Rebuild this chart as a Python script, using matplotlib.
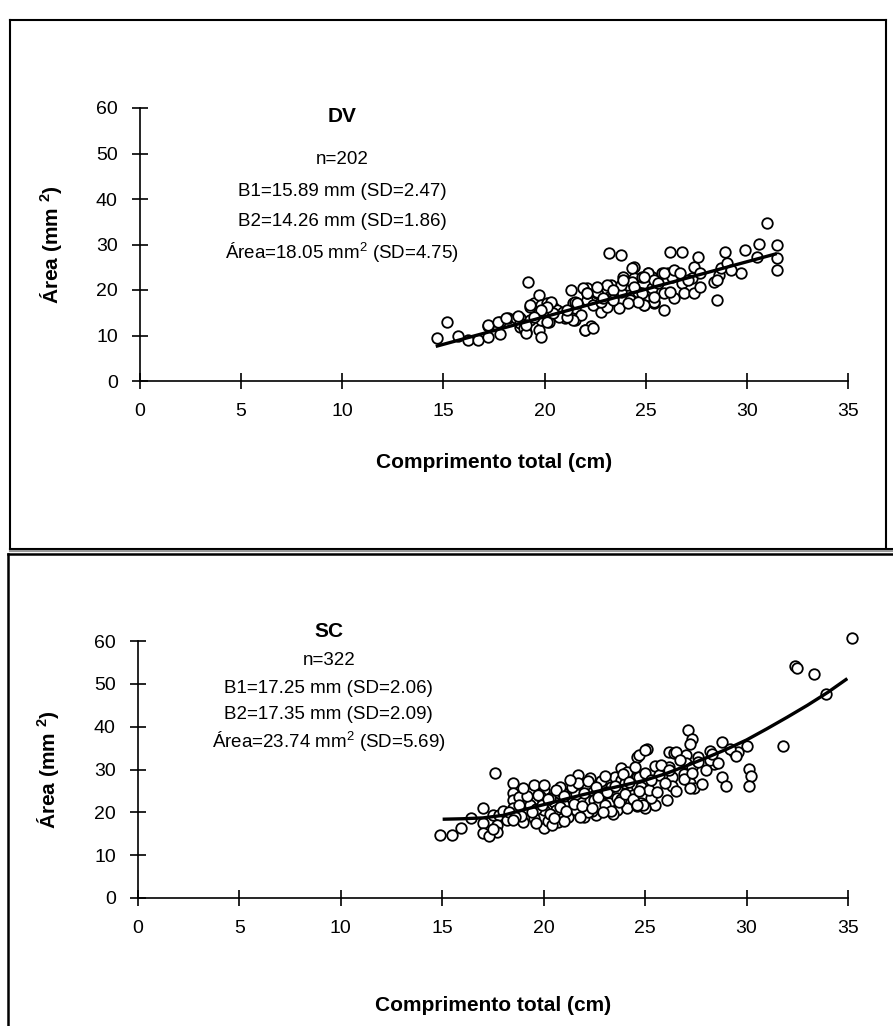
import matplotlib
matplotlib.use("Agg")
import matplotlib.pyplot as plt
from matplotlib.lines import Line2D

plt.rcParams['font.family'] = ['Liberation Sans', 'DejaVu Sans']
plt.rcParams['mathtext.fontset'] = 'custom'
plt.rcParams['mathtext.rm'] = 'Liberation Sans'
plt.rcParams['mathtext.bf'] = 'Liberation Sans:bold'
plt.rcParams['mathtext.default'] = 'regular'

# DV (top panel) - comprimento total (cm) vs area (mm2)
dv_x = [14.7, 15.2, 15.7, 16.2, 16.7, 17.2, 17.2, 17.8, 17.8, 18.2, 18.8, 18.8, 19.1, 19.2, 19.3,
        19.5, 19.7, 19.7, 19.7, 19.8, 20.0, 20.2, 20.3, 20.6, 21.0, 21.3, 21.4, 21.5, 21.5, 21.8,
        22.0, 22.1, 22.1, 22.3, 22.4, 22.6, 22.8, 23.1, 23.2, 23.3, 23.7, 23.8, 23.8, 24.1, 24.2,
        24.4, 24.4, 24.6, 24.9, 24.9, 25.1, 25.3, 25.3, 25.4, 25.8, 25.9, 25.9, 26.1, 26.2, 26.3,
        26.4, 26.8, 26.8, 26.9, 27.3, 27.4, 27.4, 27.6, 27.7, 28.4, 28.5, 28.6, 28.7, 28.9, 29.0,
        29.7, 29.9, 30.5, 30.6, 31.5, 31.5, 31.5, 31.0,
        19.3, 19.8, 20.1, 20.4, 20.6, 20.9, 21.5, 21.4, 21.9, 22.1, 22.0, 22.4, 22.6, 22.8, 23.1,
        23.2, 23.4, 23.8, 23.9, 24.3, 24.3, 24.8, 25.1, 25.4, 24.8, 25.4, 24.9, 18.6, 18.8, 19.0,
        19.1, 17.2, 17.7, 18.1, 18.7, 19.8, 20.1, 19.3, 20.3, 20.7, 21.1,
        23.4, 23.9, 24.4, 24.9, 25.6, 25.9, 26.4, 26.7, 27.1, 27.7, 26.2, 25.4, 24.6, 24.1, 23.4,
        22.9, 22.6, 22.1, 21.6, 21.1, 20.4, 20.1, 19.8, 19.5, 19.1, 28.5, 29.2]
dv_y = [9.4, 13.0, 9.9, 9.0, 9.0, 9.7, 12.1, 10.3, 13.0, 13.8, 13.8, 11.8, 10.8, 21.8, 16.3,
        17.1, 18.9, 14.1, 11.2, 9.7, 15.6, 13.0, 16.3, 15.2, 13.8, 20.0, 17.1, 16.0, 13.4, 14.5,
        11.2, 20.4, 17.8, 12.0, 16.7, 19.3, 15.2, 16.3, 28.1, 21.1, 16.0, 27.7, 19.6, 21.1, 17.8,
        22.6, 25.1, 19.6, 18.2, 16.7, 23.7, 20.4, 22.9, 17.1, 23.7, 19.3, 15.6, 23.7, 28.4, 22.9,
        18.2, 28.4, 21.5, 19.3, 22.6, 25.1, 19.3, 27.3, 23.7, 21.8, 17.8, 23.3, 24.8, 28.4, 25.9,
        23.7, 28.8, 27.3, 30.2, 29.9, 27.0, 24.4, 34.7,
        16.7, 16.7, 17.1, 16.3, 15.6, 15.2, 17.4, 13.4, 20.4, 19.3, 11.2, 11.6, 19.6, 17.4, 21.1,
        18.5, 18.5, 21.1, 22.9, 24.8, 21.8, 22.9, 23.7, 22.2, 19.3, 17.4, 16.7, 13.8, 12.7, 11.6,
        10.5, 12.3, 13.0, 13.8, 14.2, 13.4, 13.0, 13.4, 17.4, 14.1, 14.1,
        20.0, 22.2, 20.7, 22.9, 21.5, 23.7, 24.4, 23.7, 22.2, 20.7, 19.6, 18.5, 17.4, 17.1, 17.8,
        18.2, 20.7, 19.3, 17.1, 15.6, 14.9, 16.3, 15.6, 14.1, 12.3, 22.2, 24.4]
dv_fit_x = [14.7, 31.4]
dv_fit_y = [7.7, 27.9]

# SC (bottom panel)
sc_x = [14.9, 15.5, 15.9, 16.4, 17.0, 17.0, 17.0, 17.6, 17.5, 17.8, 17.7, 17.7, 18.2, 18.5, 18.5,
        18.5, 18.5, 19.0, 19.0, 19.0, 19.0, 19.5, 19.5, 19.5, 20.0, 20.0, 20.0, 20.5, 20.6, 20.7,
        20.9, 21.2, 21.3, 21.6, 21.7, 21.8, 21.8, 22.0, 22.3, 22.3, 22.5, 22.6, 22.8, 22.9, 23.2,
        23.5, 23.6, 23.6, 23.8, 23.8, 24.1, 24.1, 24.1, 24.6, 24.6, 24.6,
        35.2, 32.4, 32.5, 33.3, 33.9, 31.8, 27.1, 27.3, 27.2, 28.8, 30.0, 29.4, 29.6, 30.1, 30.2,
        30.1, 28.8, 29.0, 28.2, 28.4, 28.2, 27.6, 27.0, 27.0, 27.3, 26.9, 27.2, 27.4, 27.2, 26.2,
        26.4, 25.1, 24.7, 26.2, 25.5, 26.3, 26.3, 26.1, 25.5, 25.3, 24.8, 24.8, 25.2, 24.7, 25.7,
        26.5, 25.0,
        18.8, 19.3, 19.8, 20.3, 20.8, 21.4, 22.1, 22.7, 23.3, 24.0, 18.0, 18.9, 19.6, 20.2, 21.0,
        21.6, 22.4, 23.0, 23.8, 24.4, 17.3, 17.5, 20.4, 21.0, 22.2, 23.4, 25.0,
        18.3, 18.6, 18.8, 19.2, 19.4, 19.7, 19.9, 20.2, 20.3, 20.6, 20.8, 21.0, 21.1, 21.4, 21.5,
        21.7, 21.9, 22.0, 22.2, 22.4, 22.6, 22.7, 23.0, 23.1, 23.3, 23.5, 23.7, 23.9, 24.0, 24.2,
        24.4, 24.5, 24.7, 24.9, 25.0, 25.3, 25.6, 25.8, 26.0, 26.2, 26.5, 26.7, 26.9, 27.3, 27.6,
        27.8, 28.0, 28.3, 28.6, 29.2, 29.5, 19.0, 20.0, 21.3, 18.5, 19.6, 20.5, 21.8, 22.9, 24.6]
sc_y = [14.7, 14.7, 16.3, 18.6, 21.0, 17.5, 15.1, 29.1, 19.4, 19.4, 17.1, 15.5, 18.2, 26.8, 24.5,
        22.9, 21.0, 24.5, 22.9, 20.6, 17.8, 26.4, 22.9, 18.6, 25.2, 20.6, 16.3, 22.5, 20.6, 17.8,
        24.8, 19.0, 23.3, 20.6, 28.7, 25.6, 23.3, 19.0, 28.0, 25.2, 22.9, 19.4, 27.2, 24.5, 22.1,
        28.3, 23.3, 20.6, 30.3, 27.6, 29.5, 25.2, 21.0, 33.0, 28.3, 21.4,
        60.8, 54.2, 53.7, 52.3, 47.7, 35.5, 39.3, 37.1, 36.0, 36.5, 35.5, 34.2, 34.2, 30.1, 28.5,
        26.2, 28.2, 26.2, 34.4, 31.3, 32.2, 33.0, 33.4, 31.5, 30.7, 29.0, 26.8, 25.6, 25.6, 34.2,
        33.8, 34.7, 33.4, 30.7, 30.8, 28.3, 26.2, 22.9, 21.7, 23.3, 26.0, 22.1, 25.2, 28.3, 28.7,
        34.2, 34.6,
        23.6, 21.8, 23.8, 23.4, 26.0, 26.8, 26.5, 21.6, 25.8, 26.8, 20.3, 19.2, 20.8, 18.0, 21.6,
        24.2, 20.4, 21.8, 23.0, 24.0, 14.5, 16.0, 17.0, 18.0, 20.0, 19.5, 21.0,
        20.0, 19.0, 21.8, 23.8, 20.0, 24.0, 21.7, 23.0, 19.5, 25.3, 21.2, 23.9, 20.2, 25.8, 22.0,
        26.8, 21.4, 24.6, 27.2, 21.0, 26.0, 23.5, 28.5, 24.8, 20.4, 26.2, 22.4, 29.0, 24.2, 27.0,
        23.0, 30.5, 25.0, 21.6, 29.2, 27.5, 24.8, 31.0, 26.8, 29.8, 25.0, 32.3, 27.8, 29.2, 31.8,
        26.6, 30.0, 33.6, 31.6, 34.8, 33.2, 25.6, 26.3, 27.5, 18.3, 17.4, 18.6, 18.9, 20.0, 21.8]
sc_fit_x = [15.1, 16, 17, 18, 19, 20, 21, 22, 23, 24, 25, 26, 27, 28, 29, 30, 31, 32, 33, 34, 34.9]
sc_fit_y = [18.4, 18.5, 18.7, 19.3, 20.6, 21.8, 23.0, 24.2, 25.3, 26.4, 27.5, 29.0, 30.8, 32.7,
            34.7, 36.9, 39.5, 42.2, 45.0, 48.0, 51.0]

dv_text = ["n=202", "B1=15.89 mm (SD=2.47)", "B2=14.26 mm (SD=1.86)",
           "Área=18.05 mm$^2$ (SD=4.75)"]
sc_text = ["n=322", "B1=17.25 mm (SD=2.06)", "B2=17.35 mm (SD=2.09)",
           "Área=23.74 mm$^2$ (SD=5.69)"]

W, H = 893, 1026
fig = plt.figure(figsize=(W / 100, H / 100), dpi=100)


def fx(px):
    return px / W


def fy(py):
    return 1 - py / H


def panel(rect, xs, ys, fit_x, fit_y, name, lines, tx, ty, xlab_y):
    ax = fig.add_axes(rect)
    ax.plot(fit_x, fit_y, color='black', lw=2.4, zorder=3)
    ax.plot(xs, ys, 'o', ms=7.6, mfc='white', mec='black', mew=1.3, zorder=2, clip_on=False)
    ax.set_xlim(0, 35)
    ax.set_ylim(0, 60)
    ax.set_xticks(range(0, 36, 5))
    ax.set_yticks(range(0, 61, 10))
    for s in ['top', 'right']:
        ax.spines[s].set_visible(False)
    ax.spines['left'].set_linewidth(1.2)
    ax.spines['bottom'].set_linewidth(1.2)
    ax.tick_params(direction='inout', length=12, width=1.2, labelsize=14, pad=10)
    ax.set_xlabel("Comprimento total (cm)", fontsize=15, fontweight='bold')
    ax.set_ylabel(r"Área (mm $^{\mathbf{2}}$)", fontsize=15, fontweight='bold')
    ax.xaxis.set_label_coords(0.5, xlab_y)
    ax.yaxis.set_label_coords(-0.108, 0.5)
    ax.text(tx, ty[0], name, fontsize=15, fontweight='bold', ha='center', va='center',
            clip_on=False)
    for t, yy in zip(lines, ty[1:]):
        ax.text(tx, yy, t, fontsize=13.5, ha='center', va='center')
    return ax


panel([fx(140), fy(381), fx(708), (381 - 108) / H], dv_x, dv_y, dv_fit_x, dv_fit_y,
      "DV", dv_text, 10.0, [58.1, 48.6, 41.6, 35.0, 28.1], -0.265)
panel([fx(138), fy(898), fx(710), (898 - 641) / H], sc_x, sc_y, sc_fit_x, sc_fit_y,
      "SC", sc_text, 9.4, [62.3, 55.4, 49.0, 42.8, 36.4], -0.38)

# panel frames
def fline(x0, y0, x1, y1, color='black', lw=1.5):
    fig.add_artist(Line2D([fx(x0), fx(x1)], [fy(y0), fy(y1)], color=color, lw=lw))


fline(9.5, 20, 886, 20)
fline(9.5, 20, 9.5, 549)
fline(886, 20, 886, 549)
fline(9.5, 549, 893, 549)
fline(9.5, 551, 893, 551, color='#999999', lw=1.5)
fline(7.5, 553.5, 893, 553.5, lw=1.8)
fline(7.5, 553.5, 7.5, 1026, lw=1.8)

fig.savefig("out.png", dpi=100)
